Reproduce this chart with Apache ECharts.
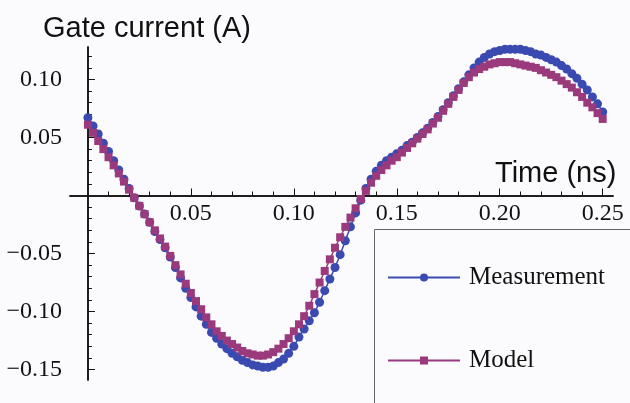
<!DOCTYPE html>
<html>
<head>
<meta charset="utf-8">
<script src="https://cdn.jsdelivr.net/npm/echarts@6/dist/echarts.min.js"></script>
<style>
  html, body { margin: 0; padding: 0; background: #fbfbfd; }
  #chart { width: 630px; height: 403px; }
</style>
</head>
<body>
<div id="chart"></div>
<script>
// time axis (ns), one sample every 0.0025 ns
var timeNs = []
for (var i = 0; i <= 100; i++) timeNs.push(+(i * 0.0025).toFixed(4))

// gate current (A)
var measurement = [
  0.067, 0.060, 0.053, 0.045, 0.038, 0.030, 0.022, 0.014, 0.006, -0.002,
  -0.009, -0.016, -0.023, -0.031, -0.038, -0.045, -0.053, -0.062, -0.071, -0.080,
  -0.088, -0.096, -0.104, -0.111, -0.118, -0.123, -0.128, -0.132, -0.136, -0.139,
  -0.142, -0.144, -0.146, -0.147, -0.148, -0.148, -0.147, -0.144, -0.141, -0.136,
  -0.130, -0.122, -0.115, -0.108, -0.101, -0.092, -0.082, -0.072, -0.062, -0.051,
  -0.039, -0.027, -0.015, -0.004, 0.006, 0.014, 0.021, 0.026, 0.030, 0.033,
  0.036, 0.039, 0.043, 0.046, 0.050, 0.054, 0.058, 0.063, 0.068, 0.074,
  0.080, 0.086, 0.092, 0.098, 0.104, 0.110, 0.115, 0.119, 0.122, 0.124,
  0.125, 0.126, 0.126, 0.126, 0.126, 0.125, 0.124, 0.122, 0.121, 0.119,
  0.117, 0.115, 0.112, 0.109, 0.105, 0.101, 0.096, 0.091, 0.085, 0.079,
  0.072
]
var model = [
  0.061, 0.054, 0.047, 0.040, 0.033, 0.026, 0.019, 0.012, 0.005, -0.002,
  -0.009, -0.016, -0.023, -0.030, -0.037, -0.044, -0.052, -0.060, -0.068, -0.076,
  -0.084, -0.091, -0.098, -0.105, -0.111, -0.117, -0.121, -0.125, -0.128, -0.131,
  -0.134, -0.136, -0.137, -0.138, -0.138, -0.137, -0.135, -0.132, -0.128, -0.123,
  -0.117, -0.111, -0.104, -0.095, -0.085, -0.075, -0.065, -0.055, -0.045, -0.036,
  -0.027, -0.019, -0.011, -0.003, 0.004, 0.011, 0.017, 0.022, 0.026, 0.030,
  0.033, 0.037, 0.041, 0.045, 0.049, 0.053, 0.057, 0.062, 0.067, 0.073,
  0.079, 0.085, 0.091, 0.097, 0.102, 0.106, 0.109, 0.111, 0.113, 0.114,
  0.115, 0.115, 0.115, 0.114, 0.113, 0.112, 0.111, 0.110, 0.108, 0.106,
  0.104, 0.102, 0.099, 0.096, 0.093, 0.089, 0.085, 0.080, 0.076, 0.071,
  0.066
]

// ticks
var xMajorTicks = [0.05, 0.10, 0.15, 0.20, 0.25]
var xMinorTicks = [0.01, 0.02, 0.03, 0.04, 0.06, 0.07, 0.08, 0.09, 0.11, 0.12, 0.13, 0.14,
  0.16, 0.17, 0.18, 0.19, 0.21, 0.22, 0.23, 0.24]
var yMajorTicks = [-0.15, -0.10, -0.05, 0.05, 0.10]
var yMinorTicks = [-0.14, -0.13, -0.12, -0.11, -0.09, -0.08, -0.07, -0.06, -0.04, -0.03, -0.02, -0.01,
  0.01, 0.02, 0.03, 0.04, 0.06, 0.07, 0.08, 0.09, 0.11, 0.12]

function pairs (ys) {
  return ys.map(function (v, i) { return [timeNs[i], v] })
}
function fmt (v) {
  return (v < 0 ? '\u2212' : '') + Math.abs(v).toFixed(2)
}

var labelFont = { color: '#111', fontFamily: 'Liberation Serif', fontSize: 24 }
var lineStyle = { color: '#111', width: 1.5 }

var chart = echarts.init(document.getElementById('chart'))
var option = {
  animation: false,
  backgroundColor: '#fbfbfd',
  grid: { left: 70, right: 17, top: 47, bottom: 23 },
  xAxis: [
    {
      type: 'value', min: -0.0087, max: 0.255, position: 'bottom',
      axisLine: { onZero: true, onZeroAxisIndex: 0, lineStyle: lineStyle },
      axisTick: { inside: true, length: 7, customValues: xMajorTicks, lineStyle: { color: '#111' } },
      // labels sit on the grid bottom here, pulled back up to the zero line
      axisLabel: Object.assign({ customValues: xMajorTicks, margin: -178, formatter: fmt }, labelFont),
      splitLine: { show: false }
    },
    {
      type: 'value', min: -0.0087, max: 0.255, position: 'bottom',
      axisLine: { onZero: true, onZeroAxisIndex: 0, lineStyle: lineStyle },
      axisTick: { inside: true, length: 4, customValues: xMinorTicks, lineStyle: { color: '#111' } },
      axisLabel: { show: false },
      splitLine: { show: false }
    }
  ],
  yAxis: [
    {
      type: 'value', min: -0.159, max: 0.128, position: 'left',
      axisLine: { onZero: true, onZeroAxisIndex: 0, lineStyle: lineStyle },
      axisTick: { inside: true, length: 4, customValues: yMinorTicks, lineStyle: { color: '#111' } },
      axisLabel: { show: false },
      splitLine: { show: false }
    },
    {
      type: 'value', min: -0.159, max: 0.128, position: 'left',
      axisLine: { onZero: true, onZeroAxisIndex: 0, lineStyle: lineStyle },
      axisTick: { inside: true, length: 7, customValues: yMajorTicks, lineStyle: { color: '#111' } },
      axisLabel: Object.assign({ customValues: yMajorTicks, margin: 8, formatter: fmt }, labelFont),
      splitLine: { show: false }
    }
  ],
  legend: {
    orient: 'vertical',
    left: 387,
    top: 265,
    padding: 0,
    itemGap: 58,
    itemWidth: 72,
    itemHeight: 10,
    textStyle: { color: '#111', fontFamily: 'Liberation Serif', fontSize: 25, padding: [0, 0, 0, 4] },
    data: ['Measurement', 'Model']
  },
  graphic: [
    {
      type: 'rect', z: 1,
      shape: { x: 374.5, y: 229.5, width: 300, height: 220 },
      style: { fill: '#fbfbfd', stroke: '#666', lineWidth: 1 }
    },
    {
      type: 'text', left: 43, top: 14,
      style: { text: 'Gate current (A)', fill: '#111', font: '29px "Liberation Sans"' }
    },
    {
      type: 'text', left: 495, top: 159,
      style: { text: 'Time (ns)', fill: '#111', font: '29px "Liberation Sans"' }
    }
  ],
  series: [
    {
      name: 'Measurement', type: 'line',
      data: pairs(measurement),
      symbol: 'circle', symbolSize: 9,
      itemStyle: { color: '#3a4ab0' },
      lineStyle: { color: '#3a4ab0', width: 1.5 }
    },
    {
      name: 'Model', type: 'line',
      data: pairs(model),
      symbol: 'rect', symbolSize: 8,
      itemStyle: { color: '#9a3a7c' },
      lineStyle: { color: '#9a3a7c', width: 1.5 }
    }
  ]
}
chart.setOption(option)
</script>
</body>
</html>
